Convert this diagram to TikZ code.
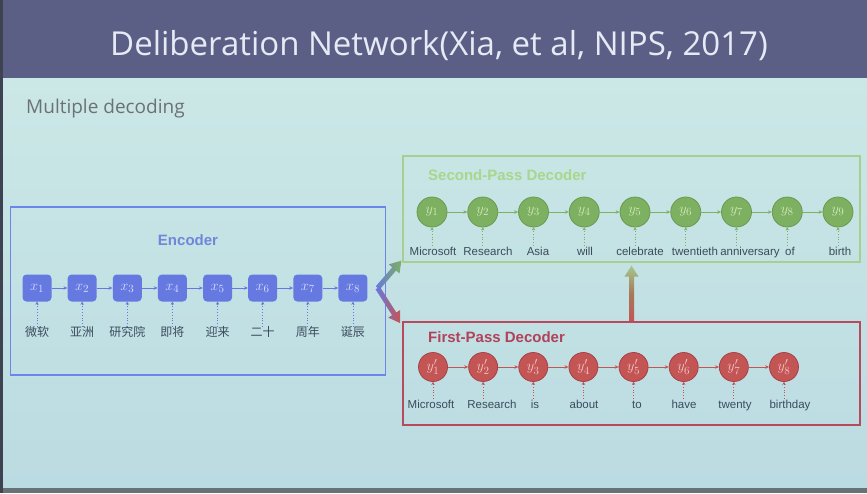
\documentclass[tikz,border=0pt]{standalone}
\usepackage{fontspec}
\setmainfont{Liberation Sans}
\newfontfamily\titlefont{Open Sans}
\newfontfamily\cjk{Noto Sans CJK SC}
\usetikzlibrary{arrows.meta,calc}

\begin{document}
\begin{tikzpicture}[x=1pt, y=-1pt,
    encnode/.style={rectangle, rounded corners=4pt, fill=encFill, minimum width=29pt, minimum height=27pt, inner sep=0pt, text=encText, font=\fontsize{15}{15}\selectfont},
    spdnode/.style={circle, fill=spdFill, draw=spdRim, line width=0.8pt, minimum size=30pt, inner sep=0pt, text=spdText, font=\fontsize{15}{15}\selectfont},
    fpdnode/.style={circle, fill=fpdFill, draw=fpdRim, line width=0.8pt, minimum size=29pt, inner sep=0pt, text=fpdText, font=\fontsize{15}{15}\selectfont},
    word/.style={inner sep=1pt, text=wordText, text height=8pt, text depth=2pt, font=\fontsize{11.5}{11.5}\selectfont},
    cjkword/.style={word, font=\cjk\fontsize{12}{12}\selectfont},
    boxlabel/.style={inner sep=0pt, font=\bfseries\fontsize{15}{15}\selectfont},
    dotlink/.style={dotted, line width=0.8pt, -{Stealth[length=3pt,width=3.5pt]}},
    link/.style={line width=0.8pt, -{Stealth[length=4pt,width=3.5pt]}}
]
    \definecolor{titleBar}{HTML}{5B5F86}
    \definecolor{titleText}{HTML}{E6EAF4}
    \definecolor{bodyTop}{HTML}{CBE8E6}
    \definecolor{bodyBottom}{HTML}{BBDBE2}
    \definecolor{bottomBar}{HTML}{687176}
    \definecolor{edgeDark}{HTML}{3D4350}
    \definecolor{subText}{HTML}{6B7178}
    \definecolor{wordText}{HTML}{3C4B5C}
    \definecolor{encLine}{HTML}{6A86E8}
    \definecolor{encFill}{HTML}{6679E0}
    \definecolor{encText}{HTML}{D6DCFF}
    \definecolor{encLabel}{HTML}{6F86D9}
    \definecolor{spdLine}{HTML}{A8CF90}
    \definecolor{spdFill}{HTML}{7DB060}
    \definecolor{spdRim}{HTML}{6A9A50}
    \definecolor{spdText}{HTML}{CDEAB8}
    \definecolor{spdLabel}{HTML}{A6D78C}
    \definecolor{fpdLine}{HTML}{B84A5E}
    \definecolor{fpdFill}{HTML}{C35555}
    \definecolor{fpdRim}{HTML}{A84048}
    \definecolor{fpdText}{HTML}{F2C4C4}
    \definecolor{fpdLabel}{HTML}{B0425A}

    \useasboundingbox (0,0) rectangle (867,493);

    % shaded fat arrow: from, to, shading
    \def\fatArrow#1#2#3{%
        \coordinate (fa-h) at ($(#2)!11pt!(#1)$);
        \shade[#3] ($(#1)!2.5pt!90:(#2)$) -- ($(fa-h)!2.5pt!90:(#2)$) -- ($(fa-h)!7pt!90:(#2)$) -- (#2)
            -- ($(fa-h)!7pt!-90:(#2)$) -- ($(fa-h)!2.5pt!-90:(#2)$) -- ($(#1)!2.5pt!-90:(#2)$) -- cycle;
    }

    % Slide background
    \fill[titleBar] (0,0) rectangle (867,78);
    \shade[top color=bodyTop, bottom color=bodyBottom] (0,78) rectangle (867,488);
    \fill[bottomBar] (0,488) rectangle (867,493);
    \fill[edgeDark] (0,0) rectangle (2.5,493);

    \node[anchor=west, inner sep=0pt, text=titleText, font=\titlefont\fontsize{33}{33}\selectfont] (title) at (110,46) {Deliberation Network(Xia, et al, NIPS, 2017)};
    \node[anchor=west, inner sep=0pt, text=subText, font=\titlefont\fontsize{19}{19}\selectfont] (subtitle) at (26,109) {Multiple decoding};

    % Draw the three boxes
    \node[draw=encLine, line width=1.5pt, minimum width=375pt, minimum height=168pt, inner sep=0pt] (enc) at (198,291) {};
    \node[draw=spdLine, line width=1.2pt, minimum width=457pt, minimum height=106pt, inner sep=0pt] (spd) at (631.5,209) {};
    \node[draw=fpdLine, line width=1.8pt, minimum width=457pt, minimum height=103pt, inner sep=0pt] (fpd) at (631.5,373.5) {};

    \node[boxlabel, text=encLabel] (encTitle) at (188,240) {Encoder};
    \node[boxlabel, text=spdLabel, anchor=west] (spdTitle) at (428,175) {Second-Pass Decoder};
    \node[boxlabel, text=fpdLabel, anchor=west] (fpdTitle) at (428,337) {First-Pass Decoder};

    % Encoder
    \foreach \word [count=\i] in {微软,亚洲,研究院,即将,迎来,二十,周年,诞辰} {
        \node[encnode] (x\i) at ({37+45.14*(\i-1)},288) {$x_{\i}$};
        \node[cjkword] (wx\i) at ({37+45.14*(\i-1)},333) {\word};
        \draw[dotlink, encFill] (wx\i.north -| x\i) -- (x\i);
    }
    \foreach \i [evaluate=\i as \k using int(\i+1)] in {1,...,7}
        \draw[link, encFill] (x\i) -- (x\k);

    % Second-pass decoder
    \foreach \word/\wx [count=\i] in {Microsoft/433, Research/488, Asia/538, will/585, celebrate/640, twentieth/695, anniversary/750, of/790, birth/840} {
        \node[spdnode] (y\i) at ({432+50.75*(\i-1)},212) {$y_{\i}$};
        \node[word] (wy\i) at (\wx,252) {\word};
        \draw[dotlink, spdFill] (wy\i.north -| y\i) -- (y\i);
    }
    \foreach \i [evaluate=\i as \k using int(\i+1)] in {1,...,8}
        \draw[link, spdFill] (y\i) -- (y\k);

    % First-pass decoder
    \foreach \word/\wx [count=\i] in {Microsoft/431, Research/492, is/535, about/584, to/637, have/684, twenty/735, birthday/790} {
        \node[fpdnode] (z\i) at ({433+50.14*(\i-1)},367) {$y'_{\i}$};
        \node[word] (wz\i) at (\wx,405) {\word};
        \draw[dotlink, fpdFill] (wz\i.north -| z\i) -- (z\i);
    }
    \foreach \i [evaluate=\i as \k using int(\i+1)] in {1,...,7}
        \draw[link, fpdFill] (z\i) -- (z\k);

    % Fat arrows between the boxes
    \coordinate (encOut) at ([xshift=10pt]x8.east);
    \coordinate (spdIn) at ([shift={(-1pt,2pt)}]spd.south west);
    \coordinate (fpdIn) at ([shift={(-2pt,-2pt)}]fpd.north west);
    \coordinate (spdUp) at ([yshift=-3pt]spd.south);
    \fatArrow{encOut}{spdIn}{left color=encFill, right color=spdFill}
    \fatArrow{encOut}{fpdIn}{left color=encFill, right color=fpdFill}
    \fatArrow{fpd.north}{spdUp}{top color=spdFill!70!white, bottom color=fpdFill, middle color=fpdFill!60!spdFill}

\end{tikzpicture}
\end{document}
